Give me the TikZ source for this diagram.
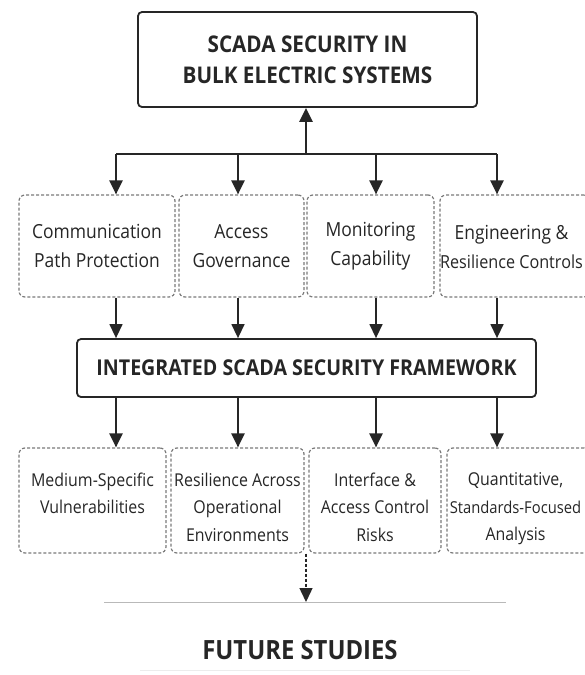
\documentclass[tikz,border=0pt]{standalone}
\usepackage{fontspec}
\setmainfont{Open Sans}[FakeStretch=0.9]
\usetikzlibrary{arrows.meta}
\definecolor{ink}{HTML}{262626}
\definecolor{dashc}{HTML}{7A7A7A}
\begin{document}
\begin{tikzpicture}[x=1pt,y=-1pt,
  solidbox/.style={draw=ink,line width=1.8pt,rounded corners=4pt,fill=white,inner sep=0pt,text=ink,align=center},
  dashbox/.style={draw=dashc,line width=1.2pt,dash pattern=on 3pt off 2pt,rounded corners=6pt,inner sep=0pt,text=ink,align=center,font=\fontsize{19.4}{29}\selectfont},
  lbltwo/.style={inner sep=0pt,text=ink,align=center,anchor=north,font=\fontsize{17.7}{27.5}\selectfont},
  tip/.style={-{Triangle[length=14pt,width=13pt]}},
  thickarr/.style={tip,draw=ink,line width=2.3pt},
  thinarr/.style={tip,draw=ink,line width=1.4pt},
]
\useasboundingbox (0,0) rectangle (584,675);
\fill[white] (0,0) rectangle (584,675);

% top box
\node[solidbox,minimum width=339pt,minimum height=95pt,font=\bfseries\fontsize{23}{31}\selectfont] (top) at (307.5,59.5) {SCADA SECURITY IN\\BULK ELECTRIC SYSTEMS};

% row 1
\node[dashbox,minimum width=156pt,minimum height=102pt] (c1) at (97,246) {Communication\\Path Protection};
\node[dashbox,minimum width=125pt,minimum height=102pt] (c2) at (241.5,246) {Access\\Governance};
\node[dashbox,minimum width=127pt,minimum height=102pt] (c3) at (370.5,246) {Monitoring\\Capability};
\node[dashbox,minimum width=150pt,minimum height=102pt] (c4) at (515,246) {};
\node[inner sep=0pt,text=ink,align=center,font=\fontsize{19.4}{29}\selectfont] (c4t) at (511.5,247) {Engineering \&\\{\fontsize{18}{29}\selectfont Resilience Controls}};

% bus
\coordinate (b1) at (116,154);
\coordinate (b2) at (238,154);
\coordinate (b3) at (376,154);
\coordinate (b4) at (497,154);
\coordinate (bm) at (306,154);
\draw[ink,line width=2.3pt] (b1) -- (b4);
\draw[thickarr] (bm) -- (bm |- top.south);
\draw[thickarr] (b1) -- (b1 |- c1.north);
\draw[thickarr] (b2) -- (b2 |- c2.north);
\draw[thickarr] (b3) -- (b3 |- c3.north);
\draw[thickarr] (b4) -- (b4 |- c4.north);

% integrated
\node[solidbox,minimum width=459pt,minimum height=58pt,font=\bfseries\fontsize{21.8}{24}\selectfont] (mid) at (306.5,368) {INTEGRATED SCADA SECURITY FRAMEWORK};

\draw[thinarr] (b1 |- c1.south) -- (b1 |- mid.north);
\draw[thinarr] (b2 |- c2.south) -- (b2 |- mid.north);
\draw[thinarr] (b3 |- c3.south) -- (b3 |- mid.north);
\draw[thinarr] (b4 |- c4.south) -- (b4 |- mid.north);

% row 2
\node[dashbox,minimum width=147pt,minimum height=105pt] (d1) at (92.5,500.5) {};
\node[dashbox,minimum width=133pt,minimum height=105pt] (d2) at (237.5,500.5) {};
\node[dashbox,minimum width=132pt,minimum height=105pt] (d3) at (375,500.5) {};
\node[dashbox,minimum width=143pt,minimum height=105pt] (d4) at (518.5,500.5) {};
\node[lbltwo] (t1) at ([yshift=-25pt]d1.north) {Medium-Specific\\Vulnerabilities};
\node[lbltwo] (t2) at ([yshift=-25pt]d2.north) {Resilience Across\\Operational\\Environments};
\node[lbltwo] (t3) at ([yshift=-25pt]d3.north) {Interface \&\\Access Control\\Risks};
\node[lbltwo] (t4) at ([yshift=-25pt,xshift=-3pt]d4.north) {Quantitative,\\{\fontsize{16.4}{27.5}\selectfont Standards-Focused}\\Analysis};

\draw[thickarr] (b1 |- mid.south) -- (b1 |- d1.north);
\draw[thickarr] (b2 |- mid.south) -- (b2 |- d2.north);
\draw[thickarr] (b3 |- mid.south) -- (b3 |- d3.north);
\draw[thickarr] (b4 |- mid.south) -- (b4 |- d4.north);

% future
\coordinate (fl) at (104,602);
\coordinate (fr) at (506,602);
\draw[gray!55,line width=1pt] (fl) -- (fr);
\draw[tip,draw=ink,line width=1.4pt,dash pattern=on 3pt off 2pt] (bm |- d3.south) -- (bm |- fl);
\node[inner sep=0pt,text=ink,font=\bfseries\fontsize{26.5}{30}\selectfont] (fut) at (300,650) {FUTURE STUDIES};
\draw[gray!15,line width=1pt] (140,670) -- (470,670);
\end{tikzpicture}
\end{document}
